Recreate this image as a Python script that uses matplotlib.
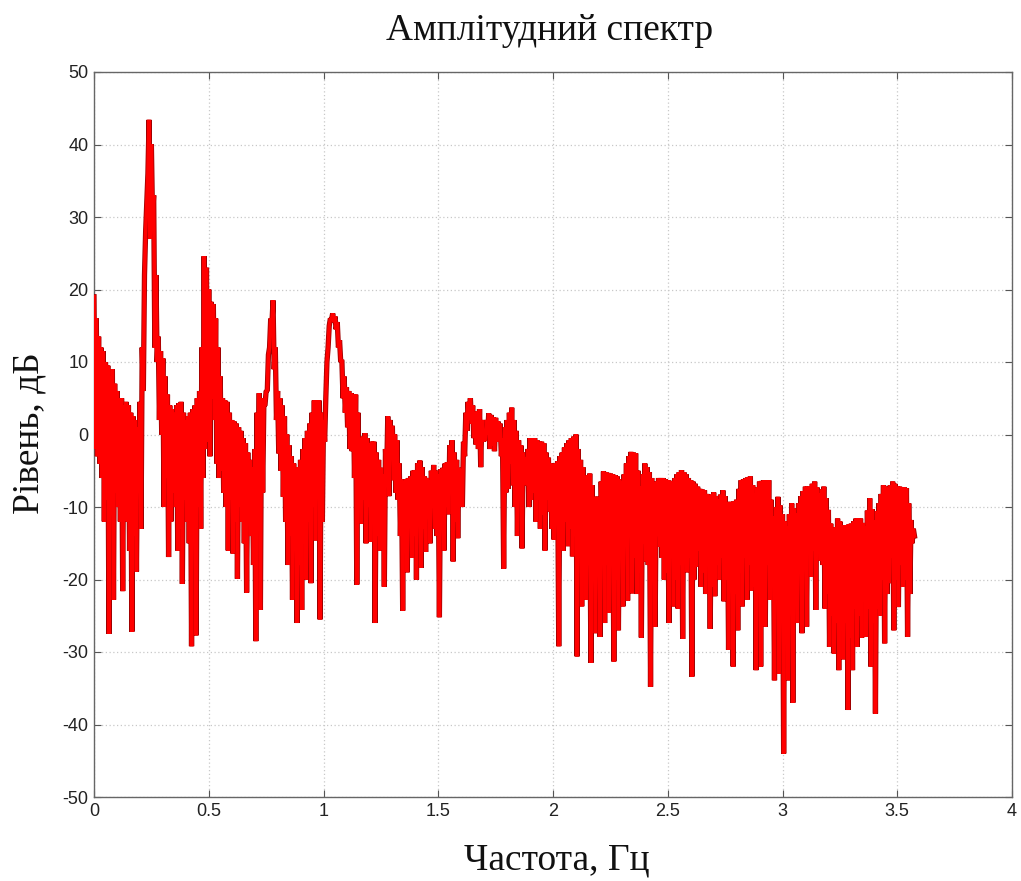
import numpy as np
import matplotlib
matplotlib.use('Agg')
import matplotlib.pyplot as plt

plt.rcParams['axes.unicode_minus'] = False

# --- Спектр: на кожен бін 0.02 Гц чотири відліки: пік, провал, пік, провал ---
BIN = 0.02
N_BINS = 179

# рівень у вершинах, f = 0.00, 0.02, ... 3.56 (дБ)
rivni_verh = [
    19, 13.5, 11.5, 9.5, 9, 6, 5, 4.5, 3, 2,
    4.5, 22, 43.4, 33, 13.5, 10.5, 5.5, 3.5, 4, 4.5,
    2, 3, 4, 6, 24.6, 20, 18, 12, 5, 4.5,
    2, 1.5, 0.5, -1.2, -3.5, -2, 5.7, 4, 11, 18.5,
    6, 4, 0, -3, -5, -3.5, -0.5, 1.5, 4.7, 4.7,
    2, 12, 16.7, 15.5, 10.3, 6.5, 5.7, 5.5, -0.5, 0.2,
    -1.2, -1, -3.5, -5.5, 2.5, 1.2, -0.8, -6.2, -6.2, -5.8,
    -4.9, -3.6, -5.8, -6.3, -4.2, -5.5, -4.6, -3.8, -0.8, -3.5,
    -4.8, 3, 5, 3, 3.5, 0.5, 2.9, 2.4, 1.8, -0.5,
    2, 3.7, 0.5, -1.5, -3.2, -0.5, -0.5, -1, -1.2, -3.2,
    -4.2, -3.7, -2.5, -1.2, -0.5, 0, -3.5, -5.8, -5.4, -8.6,
    -8.6, -5.1, -5.3, -5.5, -5.8, -6.5, -4, -2.4, -2.6, -7.2,
    -4, -5.2, -7, -6, -6, -6.3, -6.5, -5.5, -4.9, -5.5,
    -6.3, -6.8, -7.5, -7.7, -8.6, -8, -9, -7.7, -9.3, -9.3,
    -9, -6.3, -6, -5.8, -8.1, -6.5, -6.3, -6.3, -11.3, -8.6,
    -11, -12.7, -9.5, -10.9, -8.5, -7.2, -7.2, -6.5, -8.1, -7.2,
    -10.4, -14.1, -11.6, -12.5, -12.5, -12.3, -11.6, -11.6, -12.7, -8.8,
    -11.8, -9.5, -7, -7.5, -6.5, -7.2, -7.3, -7.4, -11.8,
]

# глибокі провали, f = 0.005, 0.025, ... (дБ)
rivni_niz = [
    -2, -4, -12, -27.5, -22.8, -10, -21.6, -12, -27.2, -18.9,
    -13, 28, 27, 12, 2, -10, -16.9, -8, -16, -20.6,
    -12, -29.2, -27.7, -13, -2, -3, 2, -6, -8, -16,
    -16.4, -19.9, -12, -21.8, -14, -28.5, -24.2, 4, 12, 9,
    -2.6, -8.6, -18, -22.8, -26, -24.2, -20, -20.5, -14.6, -25.5,
    -1, 15, 15.5, 12, 5, 1, -2.3, -20.7, -12.3, -15,
    -14.8, -26, -16, -21, -8.5, -6.3, -9, -24.3, -19, -17,
    -20, -18.4, -16.2, -15, -13, -25.2, -16, -11, -17.5, -14.3,
    -10, 0.5, 1.5, -1.4, -4.5, -0.9, -2, -2.3, -0.5, -18.5,
    -7.5, -7, -14, -15.7, -7, -9, -12, -13, -16, -10.6,
    -14.5, -29.2, -16, -15.4, -16.8, -30.6, -23.7, -22.8, -31.5, -27.4,
    -27.9, -26, -24.6, -31.3, -27, -23.7, -22.9, -21.9, -22, -28,
    -17.5, -34.8, -26.5, -15.5, -20, -26, -23.7, -24, -28.2, -19,
    -33.4, -18.2, -21, -22, -26.8, -22.3, -20, -23, -29.7, -32,
    -27, -23.7, -22.8, -21.5, -32.5, -32, -26.5, -22.8, -33.9, -33,
    -44, -33.9, -37, -26, -27.4, -26.5, -19.6, -24.2, -17.4, -24,
    -29.3, -30.2, -32.5, -31, -38, -32.5, -29.3, -28, -27.9, -32,
    -38.5, -25, -28.8, -20.5, -27, -23.8, -21, -27.9, -15,
]

# проміжні піки, f = 0.01, 0.03, ... (дБ)
rivni_verh2 = [
    16, 12, 10, 8, 7, 5, 4, 4, 2.5, 1,
    12, 32, 40, 22, 11.5, 8, 4, 3, 4.3, 3,
    2.5, 3.5, 5, 12, 23, 18.3, 16, 8, 4.7, 3,
    1.8, 1, -0.5, -2.5, -4.5, 3, 5, 6, 16, 12,
    5, 2.5, -1.5, -4, -4.5, -2, 0.5, 3, 4.7, 3,
    5, 16, 16.3, 13, 8, 6, 5.5, 3, -0.3, -0.5,
    -1, -2.5, -4.6, -2, 2, 0, -4, -6.4, -6, -5,
    -4, -4.5, -6, -5, -5, -4.8, -4, -1.5, -2.5, -4.6,
    -1, 4.5, 4, 3.2, 2, 2, 2.7, 2.3, 1.5, 1,
    3, 2, -0.8, -2.5, -2, -0.5, -0.8, -1, -2.5, -4,
    -4, -3, -1.8, -0.8, -0.3, -2, -4.5, -5.6, -7, -8.6,
    -6.5, -5.2, -5.4, -5.6, -6.2, -5.5, -3, -2.5, -5, -5.5,
    -4.5, -6, -6.5, -6, -6.2, -6.4, -6, -5.2, -5.2, -6,
    -6.5, -7.2, -7.6, -8.2, -8.3, -8.5, -8.3, -8.5, -9.3, -9.2,
    -7.5, -6.2, -5.9, -7, -7.3, -6.4, -6.3, -9, -10, -9.8,
    -12, -11, -10.2, -9.5, -7.8, -7.2, -6.8, -7.3, -7.6, -8.8,
    -12.3, -12.8, -12, -12.5, -12.4, -12, -11.6, -12.2, -10.5, -10.3,
    -10.6, -8.2, -7.2, -7, -6.8, -7.2, -7.3, -9.5, -13,
]

# нижній край щільної смуги, f = 0.015, 0.035, ... (дБ)
rivni_niz2 = [
    -3, -6, -9, -11, -8, -12, -10, -16, -14, -8,
    6, 36, 30, 10, 0, -6, -12, -10, -13, -9,
    -15, -12, -10, -6, -1, 5, -4, -5, -10, -9,
    -12, -10, -15, -12, -18, -10, -8, 6, 15, 2,
    -5, -12, -14, -16, -18, -15, -12, -10, -8, -12,
    10, 15.8, 14.5, 10, 3, -2, -6, -10, -9, -10,
    -12, -14, -12, -6, -3, -8, -14, -13, -12, -14,
    -12, -13, -11, -10, -14, -11, -10, -8, -12, -9,
    -3, 2, -0.5, -2, -1, 0, -1.5, -1, -3, -8,
    -4, -10, -9, -6, -10, -8, -9, -11, -9, -13,
    -11, -14, -12, -13, -14, -17, -15, -18, -17, -19,
    -16, -18, -17, -20, -16, -15, -14, -17, -19, -15,
    -18, -20, -14, -17, -19, -16, -20, -18, -15, -17,
    -20, -16, -19, -17, -21, -18, -17, -20, -18, -22,
    -19, -17, -18, -21, -19, -22, -18, -20, -23, -25,
    -24, -22, -20, -19, -18, -15, -16, -14, -18, -22,
    -25, -26, -27, -26, -28, -24, -25, -23, -24, -26,
    -24, -20, -22, -17, -20, -18, -20, -22, -14,
]

X_TICKS = [0, 0.5, 1, 1.5, 2, 2.5, 3, 3.5, 4]
X_TICK_LABELS = ['0', '0.5', '1', '1.5', '2', '2.5', '3', '3.5', '4']
Y_TICKS = list(range(-50, 51, 10))

# --- Формування ламаної ---
f0 = np.arange(N_BINS) * BIN
chastota = np.column_stack([f0, f0 + 0.005, f0 + 0.01, f0 + 0.015]).ravel()
riven = np.column_stack([rivni_verh, rivni_niz, rivni_verh2, rivni_niz2]).ravel()

fig = plt.figure(figsize=(10.21, 8.81), dpi=100)
ax = fig.add_axes([94 / 1021, 1 - 797 / 881, (1012 - 94) / 1021, (797 - 72) / 881])

ax.plot(chastota, riven, color='#a00000', linewidth=3.8, solid_joinstyle='bevel', zorder=3)
ax.plot(chastota, riven, color='#ff0000', linewidth=2.6, solid_joinstyle='bevel', zorder=4)

ax.set_xlim(0, 4)
ax.set_ylim(-50, 50)
ax.set_xticks(X_TICKS)
ax.set_xticklabels(X_TICK_LABELS)
ax.set_yticks(Y_TICKS)

tick_font = ['Liberation Sans Narrow', 'Liberation Sans', 'DejaVu Sans']
for lbl in ax.get_xticklabels() + ax.get_yticklabels():
    lbl.set_family(tick_font)
    lbl.set_fontsize(13)

ax.tick_params(direction='in', length=5, width=0.8, top=True, right=True,
               colors='#555555', labelcolor='#222222', pad=4)
ax.grid(True, color='#c8c8c8', linestyle=(0, (1, 2)), linewidth=0.9)
ax.set_axisbelow(True)
for sp in ax.spines.values():
    sp.set_color('#666666')
    sp.set_linewidth(1.0)

serif = ['Liberation Serif', 'DejaVu Serif']
fig.text(0.538, 1 - 31 / 881, 'Амплітудний спектр', family=serif, fontsize=27,
         ha='center', va='center', color='#111111')
fig.text(0.545, 1 - 860 / 881, 'Частота, Гц', family=serif, fontsize=27,
         ha='center', va='center', color='#111111')
fig.text(29 / 1021, 1 - 433 / 881, 'Рівень, дБ', family=serif, fontsize=27,
         ha='center', va='center', rotation=90, color='#111111')

fig.savefig('out.png', dpi=100)
